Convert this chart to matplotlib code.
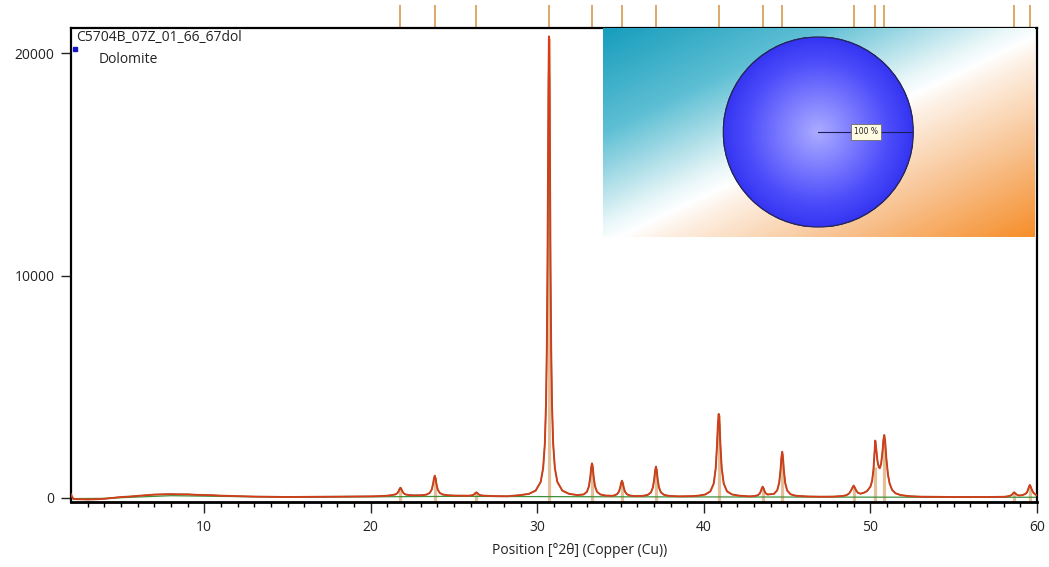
import numpy as np
import matplotlib
matplotlib.use("Agg")
import matplotlib.pyplot as plt
from matplotlib.colors import LinearSegmentedColormap
import matplotlib.transforms as mtransforms

plt.rcParams['font.family'] = ['Open Sans', 'DejaVu Sans']

# ---------------- data ----------------
sample_name = "C5704B_07Z_01_66_67dol"
phase_names = ["Dolomite"]
phase_fractions = [100]

two_theta = [
    2.0, 2.05, 2.15, 2.5, 3.0, 3.5, 4.0, 4.5, 5.0, 5.5, 6.0, 6.5, 7.0, 7.5, 8.0, 8.5, 9.0,
    9.5, 10.0, 10.5, 11.0, 11.5, 12.0, 13.0, 14.0, 15.0, 16.0, 17.0, 18.0, 19.0, 20.0,
    20.5, 21.0, 21.28, 21.48, 21.6, 21.68, 21.73, 21.78, 21.83, 21.88, 21.96, 22.08,
    22.28, 22.6, 23.04, 23.34, 23.54, 23.66, 23.74, 23.79, 23.84, 23.89, 23.94, 24.02,
    24.14, 24.34, 24.64, 25.0, 25.5, 25.84, 26.04, 26.16, 26.24, 26.29, 26.34, 26.39,
    26.44, 26.52, 26.64, 26.84, 27.5, 28.2, 28.7, 29.0, 29.5, 29.9, 30.2, 30.35, 30.45,
    30.52, 30.57, 30.61, 30.64, 30.67, 30.70, 30.73, 30.76, 30.79, 30.83, 30.88, 30.95,
    31.05, 31.2, 31.5, 31.9, 32.4, 32.78, 32.98, 33.1, 33.18, 33.23, 33.28, 33.33, 33.38,
    33.46, 33.58, 33.78, 34.08, 34.5, 34.58, 34.78, 34.9, 34.98, 35.03, 35.08, 35.13,
    35.18, 35.26, 35.38, 35.58, 35.88, 36.32, 36.62, 36.82, 36.94, 37.02, 37.07, 37.12,
    37.17, 37.22, 37.3, 37.42, 37.62, 37.92, 38.5, 39.3, 39.69, 40.09, 40.39, 40.59,
    40.71, 40.79, 40.84, 40.89, 40.94, 40.99, 41.07, 41.19, 41.39, 41.69, 42.09, 42.73,
    43.03, 43.23, 43.35, 43.43, 43.48, 43.53, 43.58, 43.63, 43.71, 43.83, 43.9, 44.2,
    44.4, 44.52, 44.6, 44.65, 44.70, 44.75, 44.8, 44.88, 45.0, 45.2, 45.5, 46.2, 47.0,
    47.8, 48.3, 48.55, 48.72, 48.84, 48.93, 48.99, 49.05, 49.14, 49.25, 49.4, 49.6, 49.8,
    50.0, 50.1, 50.18, 50.24, 50.29, 50.34, 50.42, 50.5, 50.56, 50.64, 50.72, 50.78,
    50.83, 50.88, 50.95, 51.05, 51.15, 51.3, 51.5, 51.8, 52.3, 53.0, 54.0, 55.0, 56.0,
    57.0, 58.0, 58.2, 58.4, 58.52, 58.58, 58.63, 58.68, 58.76, 58.9, 59.1, 59.3, 59.4,
    59.47, 59.52, 59.57, 59.62, 59.68, 59.76, 59.88, 60.0,
]
counts = [
    150, 60, -60, -70, -80, -70, -50, -10, 30, 50, 80, 110, 140, 150, 160, 150, 150,
    130, 120, 110, 90, 80, 70, 50, 40, 30, 35, 40, 40, 50, 60,
    70, 90, 119, 148, 208, 307, 398, 450, 398, 307, 208, 148,
    119, 105, 110, 139, 214, 367, 621, 857, 990, 857, 621, 367,
    214, 139, 110, 95, 90, 89, 102, 129, 174, 216, 240, 216,
    174, 129, 102, 89, 70, 65, 100, 118, 175, 320, 710, 1340, 2430,
    4200, 6770, 10410, 14380, 18690, 20760, 18690, 14380, 10410, 6770, 4200, 2430,
    1340, 710, 320, 175, 118, 146, 269, 521, 938, 1326, 1545, 1326, 938,
    521, 269, 146, 98, 85, 94, 153, 274, 474, 660, 765, 660,
    474, 274, 153, 94, 71, 80, 123, 236, 466, 847, 1200, 1400,
    1200, 847, 466, 236, 123, 80, 60, 70, 93, 146, 285, 638,
    1326, 2386, 3290, 3770, 3290, 2386, 1326, 638, 285, 146, 93, 60,
    75, 110, 184, 311, 428, 495, 428, 315, 200, 140, 150, 170,
    330, 667, 1237, 1766, 2065, 1766, 1237, 667, 324, 155, 89, 55, 45,
    50, 75, 110, 190, 330, 470, 545, 470, 330, 220, 180, 220, 300,
    500, 760, 1250, 1950, 2570, 2250, 1650, 1380, 1330, 1520, 2050, 2600,
    2820, 2550, 1800, 1050, 640, 350, 200, 120, 70, 45, 35, 30, 30,
    30, 40, 55, 90, 150, 210, 240, 210, 150, 100, 110, 170, 240,
    380, 500, 570, 500, 380, 250, 150, 110,
]

background_x = [2, 4, 8, 12, 16, 20, 25, 30, 35, 45, 55, 60]
background_y = [-40, -30, 90, 50, 25, 40, 60, 50, 40, 30, 20, 20]

ref_positions = [21.78, 23.84, 26.34, 30.70, 33.28, 35.08, 37.12, 40.89, 43.53,
                 44.70, 48.99, 50.29, 50.83, 58.63, 59.57]
ref_heights = [400, 950, 200, 20700, 1500, 720, 1350, 3700, 450,
               2000, 500, 1400, 2600, 200, 500]

x_ticks = [10, 20, 30, 40, 50, 60]
y_ticks = [0, 10000, 20000]
x_label = "Position [°2θ] (Copper (Cu))"

# ---------------- figure ----------------
W, H = 1049, 567
fig = plt.figure(figsize=(W / 100, H / 100), dpi=100)

ax_l, ax_r, ax_t, ax_b = 71, 1037, 28, 501.7
ax = fig.add_axes([ax_l / W, 1 - ax_b / H, (ax_r - ax_l) / W, (ax_b - ax_t) / H])
ax.set_xlim(2, 60)
ax.set_ylim(-180, 21140)

# stick pattern
ax.vlines(ref_positions, -180, ref_heights, colors="#e0b98e", linewidth=2.3, alpha=0.9, zorder=1)
# background
ax.plot(background_x, background_y, color="#3f8f3a", linewidth=0.9, zorder=2)
# observed / calculated
ax.plot(two_theta, counts, color="#9c5a25", linewidth=1.4, zorder=3)
ax.plot(two_theta, counts, color="#e0361a", linewidth=0.9, zorder=4)

# reference ticks above the plot
trans = mtransforms.blended_transform_factory(ax.transData, ax.transAxes)
ax.vlines(ref_positions, 1.0, 1.0 + 23 / (ax_b - ax_t), transform=trans,
          colors="#dca35a", linewidth=1.3, clip_on=False, zorder=0)

# axes styling
for s in ax.spines.values():
    s.set_linewidth(1.6)
    s.set_color("black")
ax.spines['bottom'].set_linewidth(2.0)
ax.set_xticks(x_ticks)
ax.set_xticks(np.arange(3, 60, 1), minor=True)
ax.set_yticks(y_ticks)
ax.set_yticklabels([str(v) for v in y_ticks])
ax.tick_params(axis='x', which='major', length=8, width=1.0, pad=5, labelsize=10)
ax.tick_params(axis='x', which='minor', length=3.6, width=1.0)
ax.tick_params(axis='y', which='major', length=7, width=1.0, pad=5, labelsize=10)
ax.tick_params(colors="#222222", labelcolor="#222222")
ax.set_xlabel(x_label, fontsize=10, color="#222222")
ax.xaxis.set_label_coords((580 - ax_l) / (ax_r - ax_l), -(551 - ax_b) / (ax_b - ax_t))
ax.xaxis.label.set_verticalalignment('center')

# legend texts
ax.text(0.0052, 0.980, sample_name, transform=ax.transAxes, fontsize=10,
        va='center', ha='left', color="#222222")
ax.text(0.0287, 0.934, phase_names[0], transform=ax.transAxes, fontsize=10,
        va='center', ha='left', color="#222222")
ax.plot([0.004], [0.955], marker='s', markersize=2.2, color="#1515c8",
        transform=ax.transAxes, clip_on=False)

# ---------------- inset: gradient box ----------------
bx0, bx1, by0, by1 = 603, 1035, 28, 237
bax = fig.add_axes([bx0 / W, 1 - by1 / H, (bx1 - bx0) / W, (by1 - by0) / H])
nx, ny = 432, 209
u = np.linspace(0, 1, nx)[None, :]
v = np.linspace(0, 1, ny)[:, None]
t = (u + v) / 2.0
grad_cmap = LinearSegmentedColormap.from_list(
    "g", [(0.0, "#179dbd"), (0.25, "#5ebfd4"), (0.47, "#e8f6f8"), (0.52, "#ffffff"),
          (0.57, "#fdf0e4"), (0.78, "#f8c08c"), (1.0, "#f68e2a")])
bax.imshow(t, cmap=grad_cmap, aspect='auto', extent=[0, 1, 0, 1], origin='upper',
           interpolation='bilinear')
bax.set_xlim(0, 1)
bax.set_ylim(0, 1)
bax.axis('off')

# ---------------- inset: pie ----------------
cx, cy, r = 818.3, 132, 95
pax = fig.add_axes([(cx - r) / W, 1 - (cy + r) / H, 2 * r / W, 2 * r / H])
wedges, _ = pax.pie(phase_fractions, colors=["#3b3bf6"], radius=1.0, startangle=0,
                    wedgeprops=dict(edgecolor="#25255e", linewidth=0.9))
pax.set_xlim(-1.0, 1.0)
pax.set_ylim(-1.0, 1.0)
pax.set_aspect('equal')
gx = np.linspace(-1, 1, 300)
GX, GY = np.meshgrid(gx, gx)
rr = np.sqrt(GX ** 2 + GY ** 2)
pie_cmap = LinearSegmentedColormap.from_list(
    "p", [(0.0, "#ababff"), (0.35, "#7f7fff"), (0.75, "#4c4cfb"), (1.0, "#3535f2")])
im = pax.imshow(np.clip(rr, 0, 1), cmap=pie_cmap, extent=[-1, 1, -1, 1], origin='lower',
                interpolation='bilinear', zorder=2)
im.set_clip_path(wedges[0])
circ = plt.Circle((0, 0), 1.0, fill=False, edgecolor="#25255e", linewidth=0.9, zorder=3)
pax.add_patch(circ)
pax.plot([0, 1.0], [0, 0], color="#1c1c5a", linewidth=0.8, zorder=4)
pax.text(0.5, 0.0, f"{phase_fractions[0]} %", fontsize=5.5, ha='center', va='center',
         color="#222222", zorder=5, family=['DejaVu Sans'],
         bbox=dict(boxstyle='square,pad=0.4', facecolor="#fffbe3", edgecolor="#6b6b6b",
                   linewidth=0.6))
pax.axis('off')

fig.savefig("out.png", dpi=100)
